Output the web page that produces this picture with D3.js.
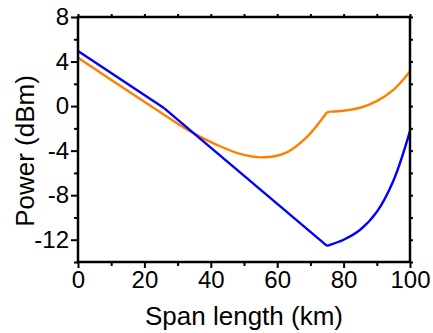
<!DOCTYPE html>
<html><head><meta charset="utf-8">
<script src="https://cdn.jsdelivr.net/npm/d3@7"></script>
<style>
html,body{margin:0;padding:0;background:#fff;}
text{font-family:"Liberation Sans",Arial,sans-serif;fill:#000;}
</style></head>
<body>
<svg id="chart" width="433" height="333"></svg>
<script>
// Data
const xTicks = [0, 20, 40, 60, 80, 100];
const xMinorTicks = [10, 30, 50, 70, 90];
const yTicks = [8, 4, 0, -4, -8, -12];
const yMinorTicks = [6, 2, -2, -6, -10, -14];

const blueKm    = [0, 26, 75, 80, 85, 90, 95, 100];
const bluePower = [4.95, -0.2, -12.55, -12.0, -11.1, -9.5, -6.7, -2.25];
const blueBreaks = [26, 75];

const orangeKm    = [0, 21.7, 34.2, 41.8, 48.8, 55.8, 62.9, 68.9, 75, 76, 80, 85, 90, 95, 100];
const orangePower = [4.35, 0.06, -2.34, -3.48, -4.29, -4.6, -4.15, -2.79, -0.55, -0.5, -0.42, -0.15, 0.45, 1.45, 3.1];
const orangeBreaks = [75, 76];

const xLabel = "Span length (km)";
const yLabel = "Power (dBm)";

const svg = d3.select("#chart");
const L = 78, R = 410, T = 17, B = 262;
const x = d3.scaleLinear().domain([0, 100]).range([L, R]);
const y = d3.scaleLinear().domain([-14, 8]).range([B, T]);

function segments(xs, ys, breaks) {
  const segs = [];
  let cur = [];
  xs.forEach((xv, i) => {
    cur.push([xv, ys[i]]);
    if (breaks.includes(xv)) { segs.push(cur); cur = [[xv, ys[i]]]; }
  });
  if (cur.length > 1) segs.push(cur);
  return segs;
}

const line = d3.line().x(d => x(d[0])).y(d => y(d[1])).curve(d3.curveCatmullRom.alpha(0.5));

const series = [
  {xs: orangeKm, ys: orangePower, br: orangeBreaks, color: "#ff8000"},
  {xs: blueKm, ys: bluePower, br: blueBreaks, color: "#0000ff"}
];
series.forEach(s => {
  svg.append("g").selectAll("path").data(segments(s.xs, s.ys, s.br)).join("path")
    .attr("d", line).attr("fill", "none").attr("stroke", s.color)
    .attr("stroke-width", 2.4).attr("stroke-linejoin", "miter").attr("stroke-linecap", "butt");
});

const axisW = 2.5;
function styleAxis(g) {
  g.select(".domain").remove();
  g.selectAll(".tick line").attr("stroke", "#000").attr("stroke-width", 2);
  g.selectAll("text").style("font-size", "24px").style("font-family", '"Liberation Sans", Arial, sans-serif');
}

svg.append("g").attr("transform", `translate(0,${B})`)
  .call(d3.axisBottom(x).tickValues(xTicks).tickSize(6).tickPadding(3).tickFormat(d3.format("d")))
  .call(styleAxis);
svg.append("g").attr("transform", `translate(0,${B})`)
  .call(d3.axisBottom(x).tickValues(xMinorTicks).tickSize(4).tickFormat(""))
  .call(styleAxis);
svg.append("g").attr("transform", `translate(0,${T})`)
  .call(d3.axisTop(x).tickValues(xTicks.concat(xMinorTicks)).tickSize(3).tickFormat(""))
  .call(styleAxis);
svg.append("g").attr("transform", `translate(${L},0)`)
  .call(d3.axisLeft(y).tickValues(yTicks).tickSize(7).tickPadding(2).tickFormat(d => String(d)))
  .call(styleAxis);
svg.append("g").attr("transform", `translate(${L},0)`)
  .call(d3.axisLeft(y).tickValues(yMinorTicks).tickSize(4).tickFormat(""))
  .call(styleAxis);
svg.append("g").attr("transform", `translate(${R},0)`)
  .call(d3.axisRight(y).tickValues(yTicks.concat(yMinorTicks)).tickSize(3).tickFormat(""))
  .call(styleAxis);

svg.append("rect").attr("x", L).attr("y", T).attr("width", R - L).attr("height", B - T)
  .attr("fill", "none").attr("stroke", "#000").attr("stroke-width", axisW);

svg.append("text").attr("x", (L + R) / 2).attr("y", 325).attr("text-anchor", "middle")
  .style("font-size", "26px").text(xLabel);
svg.append("text").attr("transform", `translate(34,151) rotate(-90)`).attr("text-anchor", "middle")
  .style("font-size", "26px").text(yLabel);
</script>
</body></html>
